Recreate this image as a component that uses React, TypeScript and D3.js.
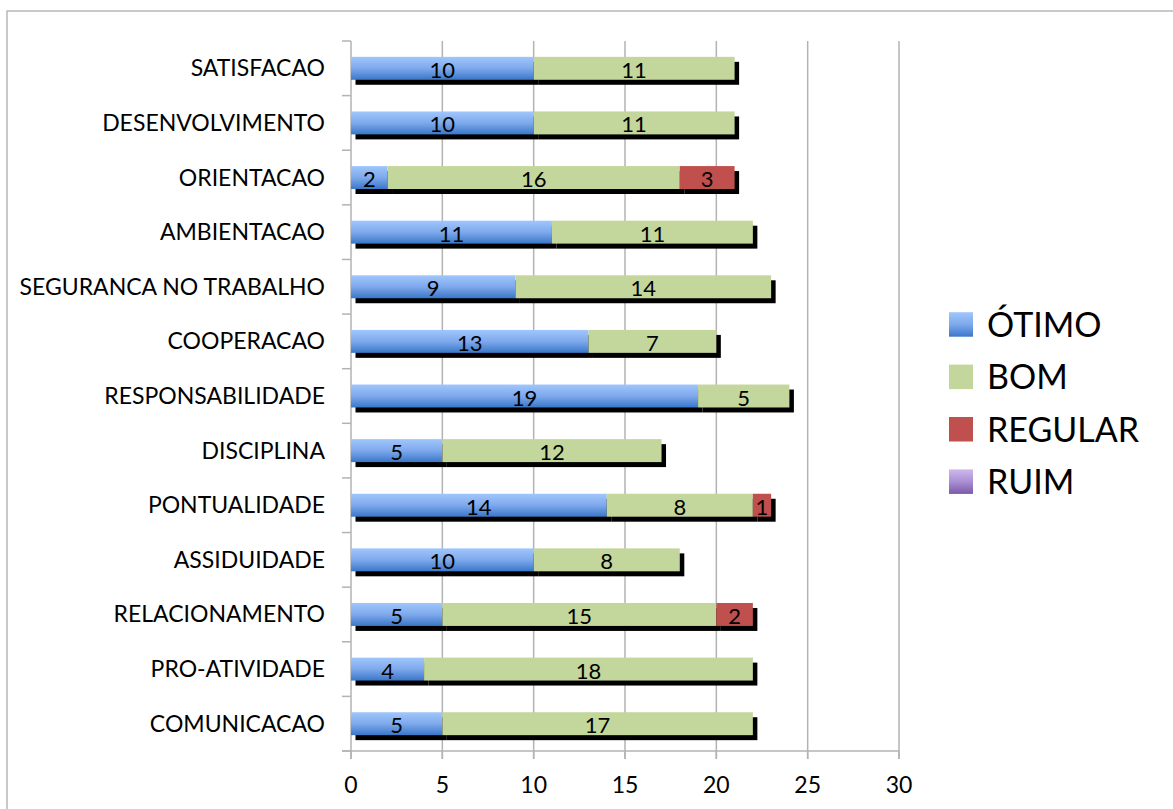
import React from "react";
import * as d3 from "d3";

const categories = [
  "SATISFACAO",
  "DESENVOLVIMENTO",
  "ORIENTACAO",
  "AMBIENTACAO",
  "SEGURANCA NO TRABALHO",
  "COOPERACAO",
  "RESPONSABILIDADE",
  "DISCIPLINA",
  "PONTUALIDADE",
  "ASSIDUIDADE",
  "RELACIONAMENTO",
  "PRO-ATIVIDADE",
  "COMUNICACAO",
];
const seriesNames = ["ÓTIMO", "BOM", "REGULAR", "RUIM"];
const otimo = [10, 10, 2, 11, 9, 13, 19, 5, 14, 10, 5, 4, 5];
const bom = [11, 11, 16, 11, 14, 7, 5, 12, 8, 8, 15, 18, 17];
const regular = [0, 0, 3, 0, 0, 0, 0, 0, 1, 0, 2, 0, 0];
const ruim = [0, 0, 0, 0, 0, 0, 0, 0, 0, 0, 0, 0, 0];
const xTicks = [0, 5, 10, 15, 20, 25, 30];

const FONT = "Lato, 'Open Sans', sans-serif";
const fills = ["url(#gBlue)", "#c3d69b", "#c0504d", "url(#gPurple)"];

export default function App() {
  const W = 1173;
  const H = 809;
  const x = d3.scaleLinear().domain([0, 30]).range([351, 899]);
  const y = d3
    .scaleBand<string>()
    .domain(categories)
    .range([41, 751])
    .paddingInner(0.58)
    .paddingOuter(0.29);
  const axisTop = 41;
  const axisBottom = 751;

  const rows = categories.map((c, i) => ({
    cat: c,
    OTIMO: otimo[i],
    BOM: bom[i],
    REGULAR: regular[i],
    RUIM: ruim[i],
  }));
  const keys = ["OTIMO", "BOM", "REGULAR", "RUIM"];
  const stacked = d3.stack<any>().keys(keys)(rows);

  const bw = y.bandwidth();
  const sdx = 4.5;
  const sdy = 5;

  const catTicks = d3.range(categories.length + 1).map((i) => axisTop + (i * (axisBottom - axisTop)) / categories.length);

  return (
    <svg
      width={W}
      height={H}
      style={{ position: "absolute", left: 0, top: 0, background: "#fff" }}
      fontFamily={FONT}
    >
      <defs>
        <linearGradient id="gBlue" x1="0" y1="0" x2="0" y2="1">
          <stop offset="0" stopColor="#a0c6fc" />
          <stop offset="0.5" stopColor="#7ea9ec" />
          <stop offset="1" stopColor="#3a77c9" />
        </linearGradient>
        <linearGradient id="gPurple" x1="0" y1="0" x2="0" y2="1">
          <stop offset="0" stopColor="#cdb8ec" />
          <stop offset="0.5" stopColor="#aa90d4" />
          <stop offset="1" stopColor="#7b58a8" />
        </linearGradient>
      </defs>
      <rect x={7} y={11} width={1200} height={850} fill="#fff" stroke="#b8b8b8" strokeWidth={1.5} />

      {xTicks.slice(1).map((t) => (
        <line key={"g" + t} x1={x(t)} x2={x(t)} y1={axisTop} y2={axisBottom + 8} stroke="#b3b3b3" strokeWidth={1.5} />
      ))}
      <line x1={x(0)} x2={x(0)} y1={axisTop} y2={axisBottom + 8} stroke="#b3b3b3" strokeWidth={1.5} />
      {catTicks.map((t, i) => (
        <line key={"ct" + i} x1={342} x2={x(0)} y1={t} y2={t} stroke="#b3b3b3" strokeWidth={1.5} />
      ))}
      <line x1={342} x2={x(30)} y1={axisBottom} y2={axisBottom} stroke="#b3b3b3" strokeWidth={1.5} />

      {stacked.map((s, si) =>
        s.map((d, i) =>
          d[1] - d[0] > 0 ? (
            <rect
              key={"s" + si + "-" + i}
              x={x(d[0]) + sdx}
              y={(y(categories[i]) as number) + sdy}
              width={x(d[1]) - x(d[0])}
              height={bw}
              fill="#000"
            />
          ) : null
        )
      )}
      {stacked.map((s, si) =>
        s.map((d, i) =>
          d[1] - d[0] > 0 ? (
            <rect
              key={"b" + si + "-" + i}
              x={x(d[0])}
              y={y(categories[i]) as number}
              width={x(d[1]) - x(d[0])}
              height={bw}
              fill={fills[si]}
            />
          ) : null
        )
      )}
      {stacked.map((s, si) =>
        s.map((d, i) =>
          d[1] - d[0] > 0 ? (
            <text
              key={"l" + si + "-" + i}
              x={(x(d[0]) + x(d[1])) / 2}
              y={(y(categories[i]) as number) + bw / 2 + 9.5}
              textAnchor="middle"
              fontSize={22}
              fill="#000"
            >
              {d[1] - d[0]}
            </text>
          ) : null
        )
      )}

      {categories.map((c) => (
        <text
          key={"c" + c}
          x={325}
          y={(y(c) as number) + bw / 2 + 8}
          textAnchor="end"
          fontSize={23}
          fill="#000"
        >
          {c}
        </text>
      ))}
      {xTicks.map((t) => (
        <g key={"xt" + t}>
          <line x1={x(t)} x2={x(t)} y1={axisBottom} y2={axisBottom + 8} stroke="#b3b3b3" strokeWidth={1.5} />
          <text x={x(t)} y={793} textAnchor="middle" fontSize={23} fill="#000">
            {t}
          </text>
        </g>
      ))}

      {seriesNames.map((n, i) => {
        const by = 336.7 + i * 52.4;
        return (
          <g key={"lg" + n}>
            <rect x={949} y={by - 24.5} width={24} height={24.5} fill={fills[i]} />
            <text x={987} y={by} fontSize={34} fill="#000">
              {n}
            </text>
          </g>
        );
      })}
    </svg>
  );
}
